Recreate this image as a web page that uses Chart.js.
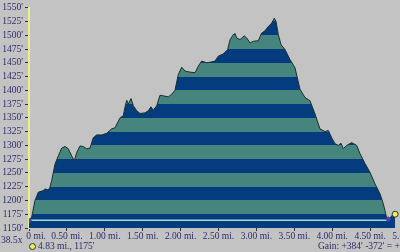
<!DOCTYPE html>
<html>
<head>
<meta charset="utf-8">
<script src="https://cdn.jsdelivr.net/npm/chart.js@4/dist/chart.umd.min.js"></script>
<style>
  html, body { margin:0; padding:0; background:#c3c3c3; overflow:hidden; width:400px; height:252px; }
  #wrap { position:relative; width:440px; height:252px; }
  canvas { position:absolute; left:0; top:0; }
  .t { position:absolute; font-family:"Liberation Serif", serif; font-size:9.5px; color:#2b2b6b; white-space:nowrap; line-height:10px; }
  .dot { display:inline-block; width:5px; height:5px; border-radius:50%; background:#f0ec60; border:1px solid #333; margin-right:2px; vertical-align:-1px; }
</style>
</head>
<body>
<div id="wrap">
  <canvas id="c" width="440" height="252"></canvas>
  <div class="t" style="left:1px;top:235px;">38.5x</div>
  <div class="t" style="left:29px;top:241px;"><span class="dot"></span>4.83 mi., 1175'</div>
  <div class="t" style="left:318px;top:241px;">Gain: +384' -372' = +12'</div>
</div>
<script>
// Distance along track (miles)
const distMi = [0, 0.036, 0.079, 0.123, 0.189, 0.211, 0.255, 0.277, 0.299, 0.343,
  0.387, 0.431, 0.475, 0.518, 0.563, 0.598, 0.629, 0.673, 0.716, 0.761,
  0.805, 0.848, 0.893, 0.959, 1.025, 1.091, 1.135, 1.201, 1.244, 1.266,
  1.289, 1.310, 1.346, 1.376, 1.421, 1.464, 1.530, 1.574, 1.609, 1.640,
  1.685, 1.728, 1.772, 1.838, 1.883, 1.926, 1.970, 2.015, 2.058, 2.124,
  2.190, 2.234, 2.278, 2.344, 2.388, 2.454, 2.497, 2.563, 2.621, 2.652,
  2.695, 2.718, 2.740, 2.784, 2.840, 2.872, 2.916, 2.959, 3.025, 3.070,
  3.113, 3.157, 3.202, 3.236, 3.259, 3.289, 3.325, 3.377, 3.443, 3.509,
  3.575, 3.641, 3.707, 3.773, 3.839, 3.905, 3.949, 3.993, 4.037, 4.081,
  4.116, 4.146, 4.191, 4.257, 4.323, 4.367, 4.433, 4.499, 4.565, 4.631,
  4.674, 4.706, 4.719, 4.740, 4.763, 4.790, 4.830];
// Elevation (feet)
const elevFt = [1163, 1170, 1200, 1215, 1218, 1221, 1219, 1224, 1236, 1266,
  1281, 1295, 1298, 1294, 1281, 1272, 1287, 1299, 1298, 1294,
  1295, 1314, 1319, 1319, 1322, 1330, 1332, 1350, 1354, 1369,
  1382, 1375, 1385, 1372, 1363, 1358, 1359, 1363, 1370, 1364,
  1372, 1391, 1390, 1388, 1393, 1400, 1429, 1442, 1435, 1433,
  1432, 1444, 1453, 1450, 1451, 1453, 1462, 1466, 1474, 1492,
  1501, 1503, 1495, 1492, 1499, 1495, 1486, 1489, 1490, 1504,
  1508, 1516, 1522, 1531, 1525, 1501, 1483, 1474, 1456, 1441,
  1402, 1387, 1381, 1357, 1330, 1325, 1327, 1314, 1303, 1300,
  1304, 1294, 1300, 1305, 1300, 1285, 1267, 1251, 1230, 1212,
  1194, 1176, 1167, 1166, 1168, 1173, 1175];
// Start-elevation reference line
const refLineMi = [0, 4.72];
const refLineFt = [1164, 1164];
// Markers
const startMarker = [0, 1163];
const lowMarker = [4.74, 1166];
const endMarker = [4.83, 1175];
// Axis ticks
const yTicks = [1150, 1175, 1200, 1225, 1250, 1275, 1300, 1325, 1350, 1375, 1400,
  1425, 1450, 1475, 1500, 1525, 1550];
const xTicks = [0, 0.5, 1, 1.5, 2, 2.5, 3, 3.5, 4, 4.5, 5];

const DARK = '#053c80';
const TEAL = '#46847e';
const TXT = '#2b2b6b';
const FONT = { family: 'Liberation Serif', size: 9.5 };

function stripeFill(ctx) {
  const chart = ctx.chart;
  if (!chart.chartArea) return DARK;
  const y = chart.scales.y;
  const y0 = y.getPixelForValue(yTicks[0]);
  const y1 = y.getPixelForValue(yTicks[yTicks.length - 1]);
  const g = chart.ctx.createLinearGradient(0, y0, 0, y1);
  const span = yTicks[yTicks.length - 1] - yTicks[0];
  for (let i = 0; i < yTicks.length - 1; i++) {
    const a = (yTicks[i] - yTicks[0]) / span;
    const b = (yTicks[i + 1] - yTicks[0]) / span;
    const col = i % 2 === 0 ? DARK : TEAL;
    g.addColorStop(a, col);
    g.addColorStop(b, col);
  }
  return g;
}

new Chart(document.getElementById('c'), {
  type: 'line',
  data: {
    datasets: [
      {
        data: [{x: startMarker[0], y: startMarker[1]}, {x: lowMarker[0], y: lowMarker[1]}],
        showLine: false, pointRadius: 2.5, pointStyle: 'rectRot',
        pointBackgroundColor: '#4a3cc8', pointBorderColor: '#4a3cc8'
      },
      {
        data: [{x: endMarker[0], y: endMarker[1]}],
        showLine: false, pointRadius: 3,
        pointBackgroundColor: '#f0ec60', pointBorderColor: '#333', pointBorderWidth: 1
      },
      {
        data: refLineMi.map((x, i) => ({x, y: refLineFt[i]})),
        borderColor: '#a6dcc4', borderWidth: 1.5, pointRadius: 0, fill: false
      },
      {
        data: distMi.map((x, i) => ({x, y: elevFt[i]})),
        borderColor: '#1c2e28', borderWidth: 1, pointRadius: 0, tension: 0,
        fill: 'start', backgroundColor: stripeFill
      }
    ]
  },
  options: {
    responsive: false, animation: false,
    layout: { padding: { top: 6, right: 32, left: 0, bottom: 0 } },
    plugins: { legend: { display: false }, tooltip: { enabled: false } },
    scales: {
      x: {
        type: 'linear', min: 0, max: 5,
        afterBuildTicks: s => { s.ticks = xTicks.map(v => ({value: v})); },
        afterFit: s => { s.height = 24; },
        grid: { drawOnChartArea: false, tickLength: 3, color: '#333' },
        border: { display: false },
        ticks: { color: TXT, font: FONT, padding: 0, maxRotation: 0, autoSkip: false,
          callback: v => (v === 0 ? '      0 mi.' : v.toFixed(2) + ' mi.') }
      },
      y: {
        min: 1150, max: 1550,
        afterBuildTicks: s => { s.ticks = yTicks.map(v => ({value: v})); },
        afterFit: s => { s.width = 29; },
        grid: { drawOnChartArea: false, tickLength: 4, color: TXT },
        border: { display: true, color: '#eeee88', width: 2 },
        ticks: { color: TXT, font: FONT, padding: 2, autoSkip: false,
          callback: v => v + "'" }
      }
    }
  }
});
</script>
</body>
</html>
